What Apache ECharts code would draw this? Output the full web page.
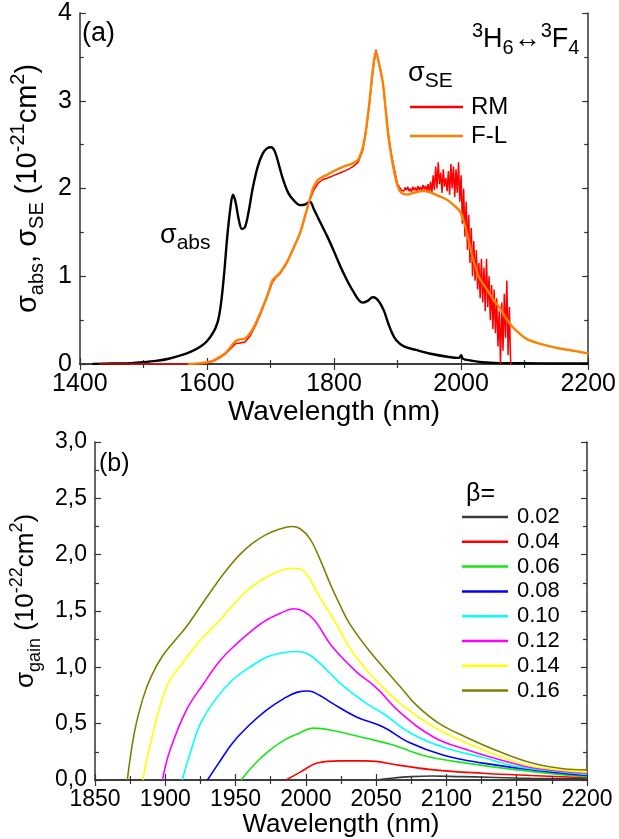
<!DOCTYPE html>
<html>
<head>
<meta charset="utf-8">
<script src="https://cdn.jsdelivr.net/npm/echarts@6/dist/echarts.min.js"></script>
<style>
    html, body { margin: 0; padding: 0; background: #fff; }
    #main { width: 619px; height: 839px; }
</style>
</head>
<body>
<div id="main"></div>
<script>
// (a) absorption cross-section
var absWl = [1420, 1450, 1480, 1500, 1520, 1540, 1560, 1575, 1590, 1600, 1610, 1617, 1622, 1627, 1632, 1637, 1641, 1645, 1650, 1655, 1660, 1666, 1672, 1680, 1688, 1695, 1701, 1707, 1714, 1720, 1728, 1736, 1747, 1755, 1762, 1768, 1778, 1789, 1799, 1814, 1830, 1845, 1853, 1861, 1866, 1872, 1879, 1885, 1891, 1898, 1910, 1929, 1950, 1981, 1997, 2000, 2003, 2015, 2033, 2060, 2100, 2150, 2200];
var absVal = [0, 0.005, 0.01, 0.02, 0.035, 0.06, 0.1, 0.14, 0.2, 0.26, 0.36, 0.48, 0.68, 1.02, 1.45, 1.78, 1.93, 1.85, 1.65, 1.54, 1.56, 1.75, 2.0, 2.25, 2.4, 2.46, 2.47, 2.42, 2.25, 2.1, 1.95, 1.87, 1.81, 1.82, 1.85, 1.77, 1.62, 1.46, 1.3, 1.05, 0.83, 0.7, 0.72, 0.76, 0.75, 0.7, 0.6, 0.47, 0.36, 0.27, 0.2, 0.16, 0.12, 0.08, 0.07, 0.1, 0.06, 0.04, 0.02, 0.01, 0.008, 0.006, 0.005];

// (a) emission cross-section, reciprocity method (RM)
var rmWl = [1430, 1500, 1560, 1590, 1600, 1610, 1620, 1630, 1638, 1645, 1652, 1660, 1668, 1676, 1685, 1695, 1703, 1708, 1715, 1725, 1735, 1747, 1755, 1762, 1768, 1775, 1782, 1790, 1800, 1810, 1820, 1830, 1838, 1845, 1850, 1856, 1861, 1866, 1871, 1877, 1885, 1890, 1895, 1900,
    1906, 1908, 1910, 1912, 1914, 1916, 1918, 1920, 1922, 1924, 1926, 1928, 1930, 1932, 1934, 1936, 1938, 1940, 1942, 1944, 1946, 1948, 1950,
    1952, 1954, 1956, 1958, 1960, 1962, 1964, 1966, 1968, 1970, 1972, 1974, 1976, 1978, 1980, 1982, 1984, 1986, 1988, 1990, 1992, 1994, 1996, 1998, 2000,
    2002, 2004, 2006, 2008, 2010, 2012, 2014, 2016, 2018, 2020, 2022, 2024, 2026, 2028, 2030, 2032, 2034, 2036, 2038, 2040, 2042, 2044, 2046, 2048, 2050, 2052, 2054, 2056, 2058, 2060, 2062, 2064, 2066, 2068, 2070, 2072, 2074, 2076, 2078, 2080];
var rmVal = [0, 0, 0, 0.005, 0.01, 0.03, 0.07, 0.12, 0.18, 0.23, 0.24, 0.25, 0.32, 0.43, 0.58, 0.77, 0.93, 0.98, 1.03, 1.14, 1.3, 1.5, 1.7, 1.87, 1.98, 2.06, 2.1, 2.12, 2.15, 2.18, 2.21, 2.25, 2.3, 2.43, 2.63, 2.98, 3.33, 3.58, 3.42, 3.2, 2.65, 2.4, 2.22, 2.05,
    1.98, 2.0, 1.97, 2.01, 1.98, 2.02, 1.97, 2.0, 1.96, 2.02, 1.98, 2.01, 1.97, 2.03, 1.98, 2.02, 1.97, 2.04, 1.99, 2.03, 1.97, 2.05, 1.96,
    2.08, 1.95, 2.15, 1.98, 2.25, 2.0, 2.3, 2.05, 2.18, 1.95, 2.22, 2.02, 2.12, 1.97, 2.2, 1.93, 2.28, 2.0, 2.25, 1.9, 2.22, 1.95, 2.3, 1.85, 2.15,
    1.6, 2.0, 1.45, 1.85, 1.3, 1.7, 1.15, 1.55, 1.0, 1.4, 0.95, 1.3, 0.85, 1.15, 0.75, 1.2, 0.7, 1.1, 0.6, 1.2, 0.65, 1.0, 0.5, 0.9, 0.4, 0.85, 0.35, 0.75, 0.2, 0.6, 0.0, 0.7, 0.15, 0.8, 0.3, 0.95, 0.1, 0.65, 0.0, 0.0];

// (a) emission cross-section, Fuchtbauer-Ladenburg (F-L)
var flWl = [1570, 1590, 1600, 1610, 1620, 1630, 1638, 1645, 1652, 1660, 1668, 1676, 1685, 1695, 1703, 1708, 1715, 1725, 1735, 1747, 1755, 1762, 1768, 1775, 1782, 1790, 1800, 1815, 1830, 1838, 1845, 1850, 1856, 1861, 1866, 1871, 1877, 1885, 1890, 1895, 1900, 1906, 1915, 1925, 1940, 1950, 1960, 1970, 1980, 1990, 1997, 2003, 2008, 2013, 2018, 2023, 2028, 2036, 2044, 2052, 2060, 2070, 2080, 2090, 2100, 2111, 2125, 2140, 2153, 2170, 2185, 2200];
var flVal = [0, 0.01, 0.02, 0.04, 0.08, 0.13, 0.2, 0.26, 0.28, 0.29, 0.35, 0.45, 0.6, 0.78, 0.95, 0.99, 1.04, 1.15, 1.3, 1.5, 1.7, 1.88, 2.02, 2.1, 2.13, 2.16, 2.2, 2.25, 2.29, 2.33, 2.46, 2.65, 3.0, 3.35, 3.56, 3.42, 3.2, 2.63, 2.38, 2.18, 2.03, 1.95, 1.93, 1.95, 1.97, 1.96, 1.93, 1.9, 1.86, 1.8, 1.75, 1.66, 1.53, 1.38, 1.22, 1.1, 0.99, 0.9, 0.81, 0.72, 0.65, 0.53, 0.43, 0.36, 0.3, 0.26, 0.23, 0.2, 0.18, 0.16, 0.14, 0.12];

// (b) gain cross-section for each inversion level beta
var betaNames = ['0.02', '0.04', '0.06', '0.08', '0.10', '0.12', '0.14', '0.16'];
var betaColors = ['#3a3a3a', '#ff0000', '#19e619', '#0000ff', '#00ffff', '#ff00ff', '#ffff00', '#808000'];
var g02Wl = [2050, 2060, 2075, 2090, 2110, 2130, 2160, 2200];
var g02Val = [0, 0.015, 0.03, 0.035, 0.03, 0.025, 0.015, 0.01];
var g04Wl = [1986, 1996, 2008, 2024, 2043, 2067, 2091, 2126, 2160, 2200];
var g04Val = [0, 0.07, 0.15, 0.17, 0.17, 0.13, 0.09, 0.06, 0.04, 0.02];
var g06Wl = [1954, 1962, 1972, 1984, 1996, 2005, 2019, 2043, 2062, 2086, 2114, 2150, 2180, 2200];
var g06Val = [0, 0.12, 0.24, 0.35, 0.42, 0.46, 0.44, 0.37, 0.31, 0.21, 0.15, 0.09, 0.05, 0.03];
var g08Wl = [1930, 1938, 1948, 1960, 1972, 1984, 1994, 2002, 2010, 2019, 2036, 2055, 2074, 2098, 2126, 2161, 2200];
var g08Val = [0, 0.15, 0.33, 0.49, 0.62, 0.72, 0.78, 0.79, 0.75, 0.68, 0.56, 0.47, 0.33, 0.22, 0.15, 0.09, 0.04];
var g10Wl = [1912, 1918, 1925, 1936, 1948, 1960, 1972, 1984, 1994, 2001, 2008, 2017, 2027, 2043, 2055, 2074, 2098, 2126, 2150, 2175, 2200];
var g10Val = [0, 0.25, 0.5, 0.72, 0.89, 1.0, 1.09, 1.13, 1.14, 1.12, 1.06, 0.95, 0.83, 0.68, 0.59, 0.42, 0.29, 0.2, 0.12, 0.08, 0.05];
var g12Wl = [1898, 1903, 1915, 1927, 1939, 1950, 1962, 1972, 1982, 1991, 1998, 2006, 2019, 2036, 2050, 2067, 2091, 2114, 2138, 2161, 2200];
var g12Val = [0, 0.25, 0.62, 0.85, 1.06, 1.2, 1.33, 1.42, 1.48, 1.52, 1.5, 1.42, 1.18, 0.96, 0.82, 0.6, 0.38, 0.27, 0.18, 0.11, 0.06];
var g14Wl = [1884, 1890, 1901, 1913, 1925, 1939, 1948, 1960, 1972, 1982, 1991, 1998, 2010, 2020, 2034, 2048, 2067, 2091, 2114, 2138, 2161, 2200];
var g14Val = [0, 0.35, 0.83, 1.05, 1.24, 1.42, 1.55, 1.7, 1.8, 1.86, 1.88, 1.86, 1.62, 1.42, 1.12, 0.91, 0.68, 0.47, 0.33, 0.21, 0.12, 0.07];
var g16Wl = [1873, 1878, 1884, 1890, 1898, 1907, 1915, 1925, 1935, 1944, 1953, 1962, 1972, 1982, 1990, 1996, 2003, 2010, 2017, 2024, 2031, 2043, 2055, 2067, 2079, 2095, 2114, 2138, 2161, 2183, 2200];
var g16Val = [0, 0.42, 0.72, 0.92, 1.1, 1.24, 1.36, 1.54, 1.72, 1.87, 2.0, 2.1, 2.18, 2.23, 2.25, 2.23, 2.14, 1.96, 1.75, 1.56, 1.39, 1.18, 1.0, 0.83, 0.66, 0.5, 0.38, 0.25, 0.15, 0.1, 0.09];
var gainWl = [g02Wl, g04Wl, g06Wl, g08Wl, g10Wl, g12Wl, g14Wl, g16Wl];
var gainVal = [g02Val, g04Val, g06Val, g08Val, g10Val, g12Val, g14Val, g16Val];

var FONT = '"Liberation Sans", Arial, sans-serif';
var AX = '#333';

function pairs(xs, ys) {
    return xs.map(function (x, i) { return [x, ys[i]]; });
}

// rich styles for sub/superscripts
function richSet(main, small) {
    return {
        n: { fontSize: main, lineHeight: main + 10, fontFamily: FONT, color: '#000', verticalAlign: 'middle' },
        sub: { fontSize: small, lineHeight: small, fontFamily: FONT, color: '#000', verticalAlign: 'bottom' },
        sup: { fontSize: small, lineHeight: small, fontFamily: FONT, color: '#000', verticalAlign: 'top' }
    };
}

function axisX(grid, min, max, interval, pos, labels, fontSize) {
    return {
        gridIndex: grid, type: 'value', min: min, max: max, interval: interval, position: pos,
        axisLine: { show: true, lineStyle: { color: AX, width: 1.5 } },
        axisTick: { show: true, inside: true, length: 6, lineStyle: { color: AX, width: 1.2 } },
        minorTick: { show: true, splitNumber: 2, length: 4, lineStyle: { color: AX, width: 1.2 } },
        splitLine: { show: false },
        axisLabel: { show: labels, color: '#000', fontSize: fontSize, fontFamily: FONT, margin: 8,
            formatter: function (v) { return String(v); } }
    };
}

function axisY(grid, min, max, interval, pos, labels, fontSize, fmt) {
    return {
        gridIndex: grid, type: 'value', min: min, max: max, interval: interval, position: pos,
        axisLine: { show: true, lineStyle: { color: AX, width: 1.5 } },
        axisTick: { show: true, inside: true, length: 6, lineStyle: { color: AX, width: 1.2 } },
        minorTick: { show: true, splitNumber: 2, length: 4, lineStyle: { color: AX, width: 1.2 } },
        splitLine: { show: false },
        axisLabel: { show: labels, color: '#000', fontSize: fontSize, fontFamily: FONT, margin: 8, formatter: fmt }
    };
}

var xa0 = axisX(0, 1400, 2200, 200, 'bottom', true, 25);
xa0.name = 'Wavelength (nm)';
xa0.nameLocation = 'middle';
xa0.nameGap = 31;
xa0.nameTextStyle = { fontSize: 28, fontFamily: FONT, color: '#000' };
var xa1 = axisX(0, 1400, 2200, 200, 'top', false, 25);
var xa2 = axisX(1, 1850, 2200, 50, 'bottom', true, 23);
xa2.name = 'Wavelength (nm)';
xa2.nameLocation = 'middle';
xa2.nameGap = 28;
xa2.nameTextStyle = { fontSize: 26, fontFamily: FONT, color: '#000' };
var xa3 = axisX(1, 1850, 2200, 50, 'top', false, 23);

var ya0 = axisY(0, 0, 4, 1, 'left', true, 25, function (v) { return String(v); });
ya0.name = '{n|σ}{sub|abs}{n|, σ}{sub|SE}{n| (10}{sup|-21}{n|cm}{sup|2}{n|)}';
ya0.nameLocation = 'middle';
ya0.nameRotate = 90;
ya0.nameGap = 28;
ya0.nameTextStyle = { rich: richSet(29, 20) };
var ya1 = axisY(0, 0, 4, 1, 'right', false, 25);
var ya2 = axisY(1, 0, 3, 0.5, 'left', true, 23, function (v) { return v.toFixed(1).replace('.', ','); });
ya2.name = '{n|σ}{sub|gain}{n| (10}{sup|-22}{n|cm}{sup|2}{n|)}';
ya2.nameLocation = 'middle';
ya2.nameRotate = 90;
ya2.nameGap = 46;
ya2.nameTextStyle = { rich: richSet(26, 18), padding: [0, 0, 0, 20] };
var ya3 = axisY(1, 0, 3, 0.5, 'right', false, 23);

var series = [
    { name: 'σabs', type: 'line', xAxisIndex: 0, yAxisIndex: 0, data: pairs(absWl, absVal), symbol: 'none', smooth: 0.35, lineStyle: { color: '#000', width: 2.4 } },
    { name: 'RM', type: 'line', xAxisIndex: 0, yAxisIndex: 0, data: pairs(rmWl, rmVal), symbol: 'none', color: '#ff0000', lineStyle: { color: '#ff0000', width: 1.5 } },
    { name: 'F-L', type: 'line', xAxisIndex: 0, yAxisIndex: 0, data: pairs(flWl, flVal), symbol: 'none', smooth: 0.35, color: '#ff8000', lineStyle: { color: '#ff8000', width: 2.4 } }
];
betaNames.forEach(function (nm, i) {
    series.push({
        name: nm, type: 'line', xAxisIndex: 2, yAxisIndex: 2,
        data: pairs(gainWl[i], gainVal[i]), symbol: 'none', smooth: 0.4,
        color: betaColors[i], lineStyle: { color: betaColors[i], width: 1.6 }
    });
});

var option = {
    animation: false,
    backgroundColor: '#fff',
    grid: [
        { left: 78, top: 13, width: 511, height: 351 },
        { left: 95, top: 442, width: 492, height: 338 }
    ],
    xAxis: [xa0, xa1, xa2, xa3],
    yAxis: [ya0, ya1, ya2, ya3],
    legend: [
        {
            data: ['RM', 'F-L'], orient: 'vertical', left: 405, top: 90, icon: 'rect',
            itemWidth: 53, itemHeight: 2.5, itemGap: 5,
            textStyle: { fontSize: 24, lineHeight: 22, fontFamily: FONT, color: '#000', padding: [0, 0, 0, 3] }
        },
        {
            data: betaNames, orient: 'vertical', left: 457, top: 501, icon: 'rect',
            itemWidth: 46, itemHeight: 2.5, itemGap: 2.8,
            textStyle: { fontSize: 22, lineHeight: 20, fontFamily: FONT, color: '#000', padding: [0, 0, 0, 4] }
        }
    ],
    graphic: [
        { type: 'text', left: 82, top: 20, style: { text: '(a)', fontSize: 27, fontFamily: FONT, fill: '#000' } },
        { type: 'text', left: 99, top: 452, style: { text: '(b)', fontSize: 25, fontFamily: FONT, fill: '#000' } },
        { type: 'text', left: 472, top: 21, style: { text: '{sup|3}{n|H}{sub|6}{n|↔}{sup|3}{n|F}{sub|4}', rich: richSet(27, 20) } },
        { type: 'text', left: 408, top: 60, style: { text: '{n|σ}{sub|SE}', rich: richSet(27, 21) } },
        { type: 'text', left: 160, top: 222, style: { text: '{n|σ}{sub|abs}', rich: richSet(27, 21) } },
        { type: 'text', left: 466, top: 482, style: { text: 'β=', fontSize: 25, fontFamily: FONT, fill: '#000' } }
    ],
    series: series
};

var myChart = echarts.init(document.getElementById('main'));
myChart.setOption(option);
</script>
</body>
</html>
